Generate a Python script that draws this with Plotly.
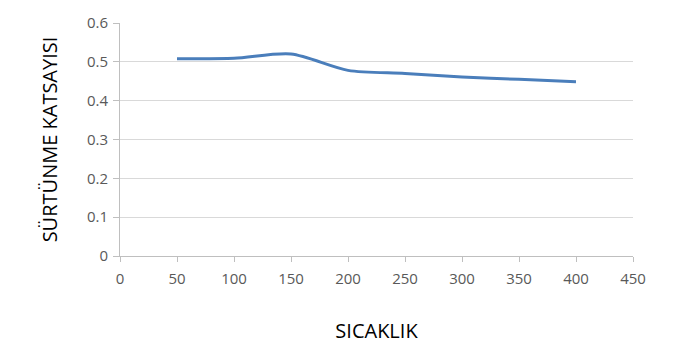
import plotly.graph_objects as go

temperature = [50, 100, 150, 200, 250, 300, 350, 400]
friction = [0.508, 0.509, 0.520, 0.478, 0.470, 0.461, 0.455, 0.449]

x_ticks = [0, 50, 100, 150, 200, 250, 300, 350, 400, 450]
y_ticks = [0, 0.1, 0.2, 0.3, 0.4, 0.5, 0.6]

fig = go.Figure()
fig.add_trace(go.Scatter(
    x=temperature, y=friction, mode="lines",
    line=dict(color="#4A7EBB", width=3, shape="spline", smoothing=0.8),
    showlegend=False,
))

fig.update_layout(
    width=684, height=354,
    margin=dict(l=120, r=51, t=19, b=98),
    paper_bgcolor="white", plot_bgcolor="white",
    font=dict(family="Open Sans", color="#595959", size=15),
)
fig.update_xaxes(
    range=[0, 450], tickvals=x_ticks, ticktext=[str(v) for v in x_ticks],
    showgrid=False, zeroline=False,
    showline=True, linecolor="#BFBFBF", linewidth=1,
    ticks="outside", ticklen=5, tickcolor="#BFBFBF",
    ticklabelstandoff=4,
    title=dict(text="SICAKLIK", font=dict(size=20, color="#000000"), standoff=36),
)
fig.update_yaxes(
    range=[0, 0.6], tickvals=y_ticks, ticktext=[("%g" % v) for v in y_ticks],
    showgrid=True, gridcolor="#D9D9D9", gridwidth=1, zeroline=False,
    showline=True, linecolor="#BFBFBF", linewidth=1,
    ticks="outside", ticklen=6, tickcolor="#BFBFBF",
    ticklabelstandoff=2,
    title=dict(text="SÜRTÜNME KATSAYISI", font=dict(size=20, color="#000000"), standoff=23),
)

fig.write_html("out.html")
